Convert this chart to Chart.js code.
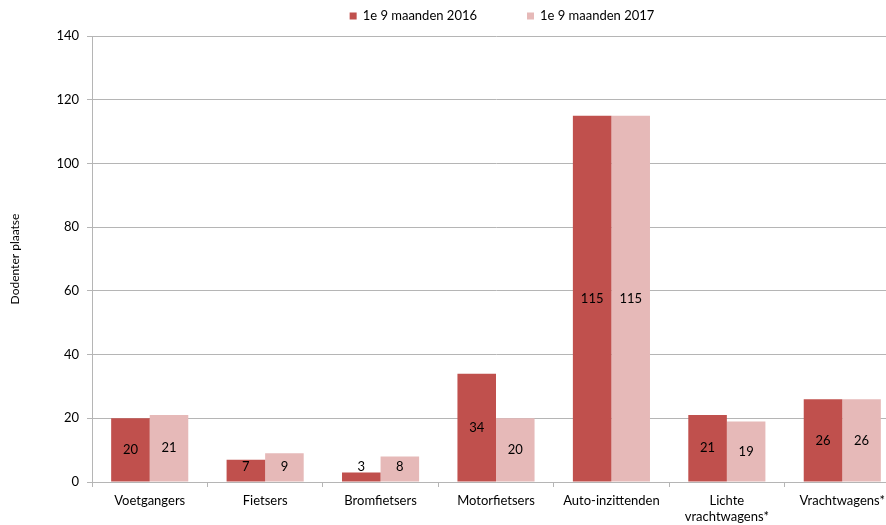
<!DOCTYPE html>
<html lang="nl">
<head>
<meta charset="UTF-8">
<title>Dodenter plaatse</title>
<script src="https://cdn.jsdelivr.net/npm/chart.js"></script>
</head>
<body style="margin:0; background:#fff; overflow:hidden;">
<div style="width:886px; height:525px; overflow:hidden;">
    <canvas id="chart" width="900" height="525"></canvas>
</div>
<script>
// data
const categories = ['Voetgangers', 'Fietsers', 'Bromfietsers', 'Motorfietsers', 'Auto-inzittenden', ['Lichte', 'vrachtwagens*'], 'Vrachtwagens*'];
const seriesNames = ['1e 9 maanden 2016', '1e 9 maanden 2017'];
const values2016 = [20, 7, 3, 34, 115, 21, 26];
const values2017 = [21, 9, 8, 20, 115, 19, 26];
const yTicks = [0, 20, 40, 60, 80, 100, 120, 140];

const colors = ['#c0504d', '#e6b9b8'];
const fontFamily = 'Lato, "Open Sans", sans-serif';
const gridColor = '#b5b5b5';

// labels in the middle of each bar
const barLabels = {
    id: 'barLabels',
    afterDatasetsDraw(chart) {
        const ctx = chart.ctx;
        const base = chart.scales.y.getPixelForValue(0);
        ctx.save();
        ctx.font = '13px ' + fontFamily;
        ctx.fillStyle = '#000';
        ctx.textAlign = 'center';
        ctx.textBaseline = 'middle';
        chart.data.datasets.forEach((ds, i) => {
            chart.getDatasetMeta(i).data.forEach((bar, j) => {
                const mid = (bar.y + bar.base) / 2;
                ctx.fillText(String(ds.data[j]), bar.x, Math.min(mid, base - 15));
            });
        });
        ctx.restore();
    }
};

// legend drawn by hand so it sits where the original has it
const topLegend = {
    id: 'topLegend',
    afterDraw(chart) {
        const ctx = chart.ctx;
        ctx.save();
        ctx.font = '13px ' + fontFamily;
        ctx.textBaseline = 'middle';
        const box = 7, gapText = 6, gapItem = 50;
        const widths = seriesNames.map(n => ctx.measureText(n).width);
        const total = widths.reduce((a, w) => a + box + gapText + w, 0) + gapItem;
        let x = 502 - total / 2;
        const y = 16;
        seriesNames.forEach((name, i) => {
            ctx.fillStyle = colors[i];
            ctx.fillRect(x, y - 3.5, box, box);
            ctx.fillStyle = '#000';
            ctx.fillText(name, x + box + gapText, y);
            x += box + gapText + widths[i] + gapItem;
        });
        ctx.restore();
    }
};

new Chart(document.getElementById('chart'), {
    type: 'bar',
    data: {
        labels: categories,
        datasets: [
            { label: seriesNames[0], data: values2016, backgroundColor: colors[0] },
            { label: seriesNames[1], data: values2017, backgroundColor: colors[1] }
        ]
    },
    options: {
        responsive: false,
        animation: false,
        layout: { padding: { top: 36, right: 0, left: 0, bottom: 0 } },
        datasets: { bar: { categoryPercentage: 0.668, barPercentage: 1.0 } },
        plugins: {
            legend: { display: false },
            tooltip: { enabled: false }
        },
        scales: {
            x: {
                offset: true,
                afterFit: s => { s.height = 43; },
                grid: { offset: true, drawOnChartArea: false, drawTicks: true, tickLength: 5, color: gridColor },
                border: { color: gridColor },
                ticks: { color: '#000', font: { family: fontFamily, size: 13 }, padding: 6, maxRotation: 0, autoSkip: false }
            },
            y: {
                min: 0,
                max: 140,
                afterFit: s => { s.width = 92; },
                afterBuildTicks: s => { s.ticks = yTicks.map(v => ({ value: v })); },
                grid: { color: gridColor, tickLength: 5 },
                border: { color: gridColor },
                ticks: { color: '#000', font: { family: fontFamily, size: 13 }, padding: 8 },
                title: {
                    display: true,
                    text: 'Dodenter plaatse',
                    color: '#000',
                    font: { family: fontFamily, size: 12 },
                    padding: { top: 8, bottom: 20 }
                }
            }
        }
    },
    plugins: [barLabels, topLegend]
});
</script>
</body>
</html>
